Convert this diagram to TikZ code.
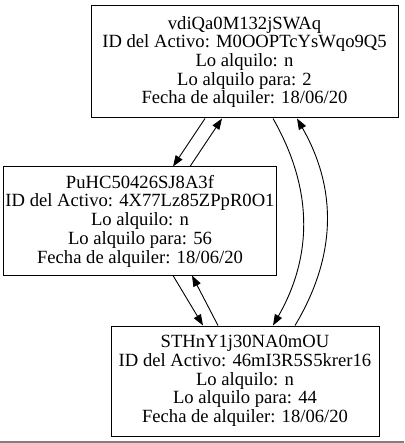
\documentclass[tikz,border=0pt]{standalone}
\usepackage{fontspec}
\setmainfont{Liberation Serif}
\usetikzlibrary{arrows.meta}

\begin{document}
\begin{tikzpicture}[x=1bp,y=-1bp,
  alquiler/.style={rectangle,draw,line width=1bp,align=center,inner sep=0pt,
    font=\fontsize{18.7}{18.8}\selectfont},
  enlace/.style={draw,line width=0.9bp,-{Triangle[length=11bp,width=8bp]}}]
\useasboundingbox (0,0) rectangle (404,443);
\node[alquiler,minimum width=307bp,minimum height=112bp] (1) at (244.5,62) {vdiQa0M132jSWAq\\ID del Activo: M0OOPTcYsWqo9Q5\\Lo alquilo: n\\Lo alquilo para: 2\\Fecha de alquiler: 18/06/20};
\node[alquiler,minimum width=272bp,minimum height=108bp] (2) at (140,221) {PuHC50426SJ8A3f\\ID del Activo: 4X77Lz85ZPpR0O1\\Lo alquilo: n\\Lo alquilo para: 56\\Fecha de alquiler: 18/06/20};
\node[alquiler,minimum width=268bp,minimum height=110bp] (3) at (245,381) {STHnY1j30NA0mOU\\ID del Activo: 46mI3R5S5krer16\\Lo alquilo: n\\Lo alquilo para: 44\\Fecha de alquiler: 18/06/20};
\draw[enlace] ([xshift=-39.5bp]1.south) -- ([xshift=33bp]2.north);
\draw[enlace] ([xshift=50bp]2.north) -- ([xshift=-22.5bp]1.south);
\draw[enlace] ([xshift=33bp]2.south) -- ([xshift=-42bp]3.north);
\draw[enlace] ([xshift=-27bp]3.north) -- ([xshift=52bp]2.south);
\draw[enlace] ([xshift=28.5bp]1.south) .. controls +(40,70) and +(40,-70) .. ([xshift=28bp]3.north);
\draw[enlace] ([xshift=50bp]3.north) .. controls +(42,-70) and +(40,70) .. ([xshift=52.5bp]1.south);
\draw[gray,line width=1.2bp] (0,442) -- (404,442);
\end{tikzpicture}
\end{document}
